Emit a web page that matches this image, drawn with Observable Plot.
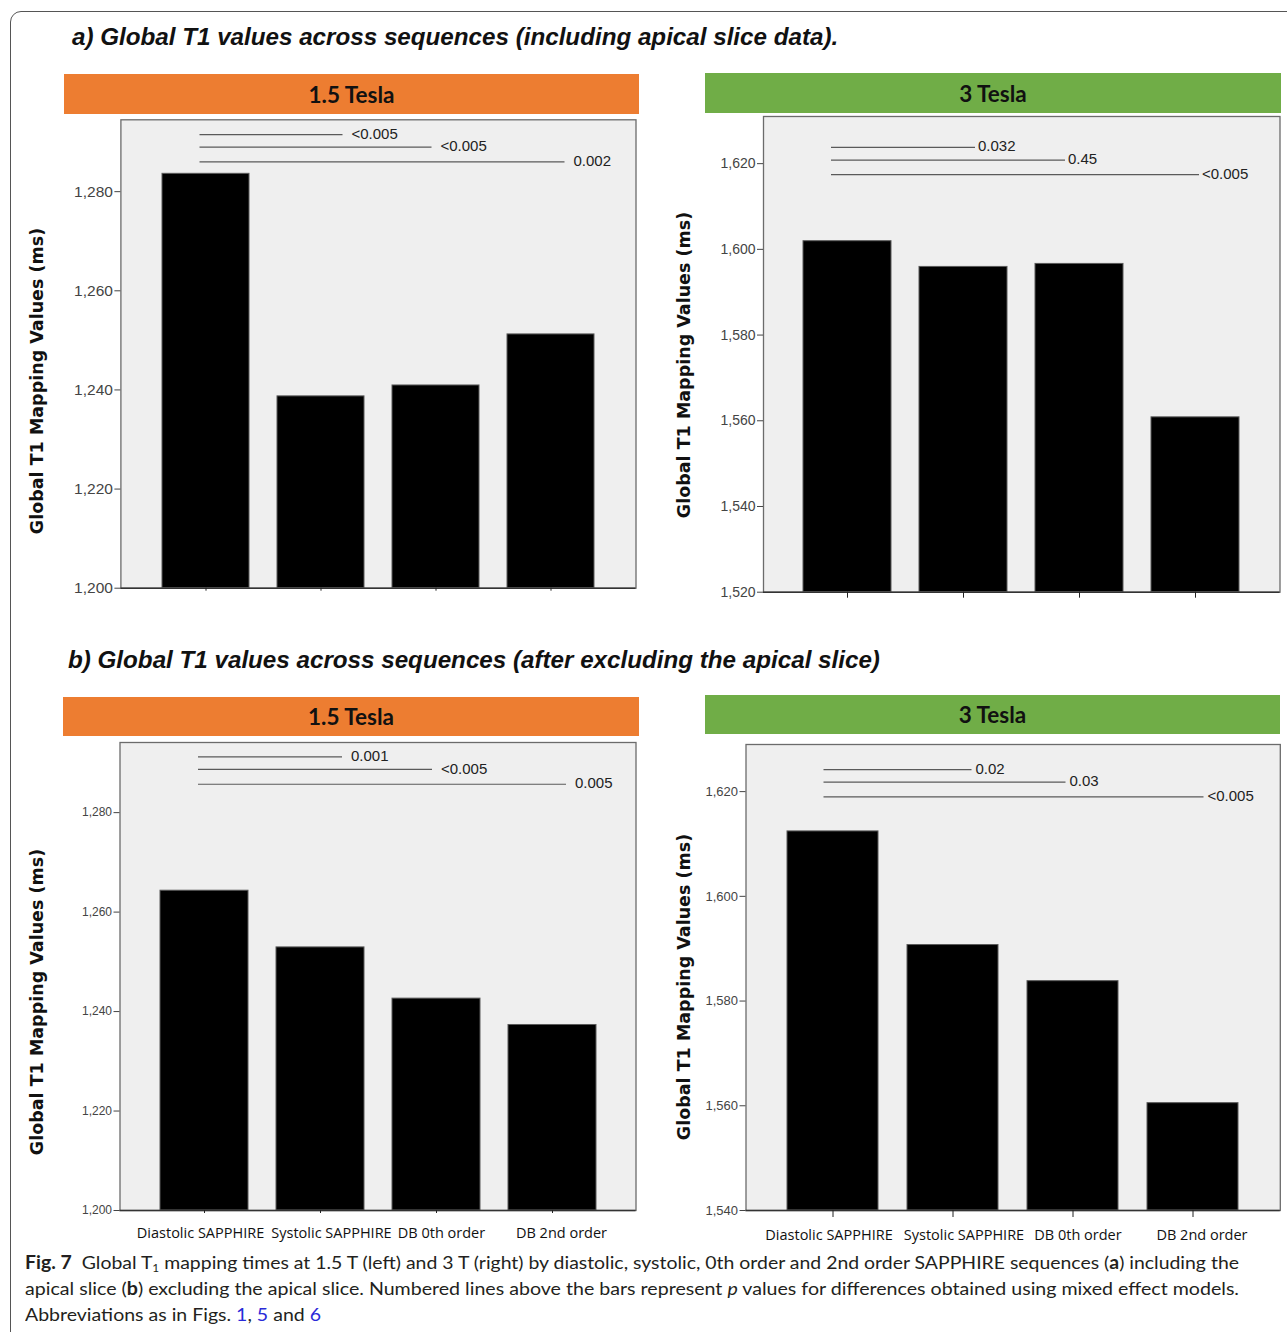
<!DOCTYPE html>
<html><head><meta charset="utf-8">
<script src="https://cdn.jsdelivr.net/npm/d3@7"></script>
<script src="https://cdn.jsdelivr.net/npm/@observablehq/plot@0.6"></script>
<style>
html,body{margin:0;padding:0;background:#fff;}
#fig{position:relative;width:1287px;height:1332px;overflow:hidden;background:#fff;}
#border{position:absolute;left:10px;top:11px;width:1330px;height:1400px;border:1.4px solid #555;border-radius:11px;box-sizing:border-box;}
.sec{position:absolute;font-family:"Liberation Sans",Arial,sans-serif;font-weight:bold;font-style:italic;font-size:24.2px;line-height:24px;color:#111;white-space:nowrap;}
.strip{position:absolute;display:flex;align-items:center;justify-content:center;font-family:Lato,sans-serif;font-weight:700;font-size:22.5px;color:#111;}
.ytitle{position:absolute;transform:translate(-50%,-50%) rotate(-90deg);font-family:"DejaVu Sans",sans-serif;font-weight:bold;font-size:17.5px;white-space:nowrap;color:#111;}
.panel{position:absolute;}
#caption{position:absolute;left:25px;top:1249px;font-family:Lato,sans-serif;font-size:18px;line-height:26px;color:#231f20;}
.cl{display:block;white-space:nowrap;height:26px;}
.cl .in{display:inline-block;transform-origin:0 50%;}
.lnk{color:#2a2ad8;}
sub{font-size:11px;vertical-align:-3px;line-height:0;}
</style></head>
<body>
<div id="fig">
  <div id="border"></div>
</div>
<script>
// ---------------- data ----------------
const categories = ["Diastolic SAPPHIRE", "Systolic SAPPHIRE", "DB 0th order", "DB 2nd order"];
// each p-value line compares Diastolic SAPPHIRE with:
const comparedWith = ["Systolic SAPPHIRE", "DB 0th order", "DB 2nd order"];

// a) including apical slice
const t1_15T_incl = [1283.6, 1238.7, 1240.9, 1251.2];
const t1_3T_incl = [1601.9, 1595.9, 1596.6, 1560.8];
// b) excluding apical slice
const t1_15T_excl = [1264.3, 1252.9, 1242.6, 1237.3];
const t1_3T_excl = [1612.4, 1590.7, 1583.8, 1560.5];

const yDomain_15T_incl = [1200, 1294.5];
const yDomain_3T_incl = [1520, 1631];
const yDomain_15T_excl = [1200, 1294.1];
const yDomain_3T_excl = [1540, 1629];

const yTicks_15T = [1200, 1220, 1240, 1260, 1280];
const yTicks_3T_incl = [1520, 1540, 1560, 1580, 1600, 1620];
const yTicks_3T_excl = [1540, 1560, 1580, 1600, 1620];

const pValues_15T_incl = ["<0.005", "<0.005", "0.002"];
const pValues_3T_incl = ["0.032", "0.45", "<0.005"];
const pValues_15T_excl = ["0.001", "<0.005", "0.005"];
const pValues_3T_excl = ["0.02", "0.03", "<0.005"];

// height (ms) at which each p-value line is drawn
const pLineY_15T_incl = [1291.4, 1288.9, 1285.9];
const pLineY_3T_incl = [1623.7, 1620.7, 1617.3];
const pLineY_15T_excl = [1291.1, 1288.6, 1285.6];
const pLineY_3T_excl = [1624.1, 1621.7, 1618.9];

const sectionTitles = [
  "a) Global T1 values across sequences (including apical slice data).",
  "b) Global T1 values across sequences (after excluding the apical slice)"
];
const fieldLabels = ["1.5 Tesla", "3 Tesla"];
const yAxisTitle = "Global T1 Mapping Values (ms)";

// ---------------- layout ----------------
const fig = document.getElementById("fig");
function addDiv(cls, style, html) {
  const d = document.createElement("div");
  d.className = cls;
  Object.assign(d.style, style);
  d.innerHTML = html;
  fig.appendChild(d);
  return d;
}

addDiv("sec", {left: "72px", top: "25px"}, sectionTitles[0]);
addDiv("sec", {left: "68px", top: "648px"}, sectionTitles[1]);

const stripColors = {"1.5 Tesla": "#ED7D31", "3 Tesla": "#70AD47"};
const strips = [
  {label: fieldLabels[0], left: 64, top: 74, w: 575, h: 40},
  {label: fieldLabels[1], left: 705, top: 73, w: 576, h: 40},
  {label: fieldLabels[0], left: 63, top: 697, w: 576, h: 39},
  {label: fieldLabels[1], left: 705, top: 695, w: 575, h: 39}
];
strips.forEach(s => addDiv("strip", {left: s.left + "px", top: s.top + "px", width: s.w + "px", height: s.h + "px", background: stripColors[s.label]}, s.label));

[[37, 381], [684, 365], [37, 1002], [684, 987]].forEach(([x, y]) =>
  addDiv("ytitle", {left: x + "px", top: y + "px"}, yAxisTitle));

// p-value bracket lines: from the first bar to the compared bar, label at the end
function sigMark(labels, ys, fontSize, shift, gap) {
  return (index, scales) => {
    const sx = scales.x, sy = scales.y;
    const bw = typeof sx.bandwidth === "function" ? sx.bandwidth() : 0;
    const cx = c => sx(c) + bw / 2;
    const endAdjust = [22, -4, 14];
    const g = d3.create("svg:g");
    labels.forEach((p, i) => {
      const x1 = cx(categories[0]) - 6 + shift;
      const x2 = cx(comparedWith[i]) + endAdjust[i] + shift;
      const y = sy(ys[i]);
      g.append("line").attr("x1", x1).attr("x2", x2).attr("y1", y).attr("y2", y)
        .attr("stroke", "#5a5a5a").attr("stroke-width", 1.2);
      g.append("text").attr("x", x2 + gap).attr("y", y).attr("dy", "0.28em")
        .attr("text-anchor", "start")
        .attr("font-size", fontSize).attr("fill", "#222")
        .attr("font-family", "'Liberation Sans', Arial, sans-serif").text(p);
    });
    return g.node();
  };
}

const xLabelShift = [-4, 11, 5, 9];

const panels = [
  {left: 60, top: 110, width: 600, height: 500, mL: 60.4, mR: 24.5, mT: 9.3, mB: 22.3,
   values: t1_15T_incl, domain: yDomain_15T_incl, ticks: yTicks_15T, pv: pValues_15T_incl, py: pLineY_15T_incl,
   tickFont: 15.5, xTick: 3, xLabels: false, sigShift: 0, sigGap: 9},
  {left: 700, top: 106, width: 587, height: 500, mL: 63, mR: 7.5, mT: 10, mB: 14.3,
   values: t1_3T_incl, domain: yDomain_3T_incl, ticks: yTicks_3T_incl, pv: pValues_3T_incl, py: pLineY_3T_incl,
   tickFont: 14, xTick: 6, xLabels: false, sigShift: -10, sigGap: 3},
  {left: 60, top: 736, width: 600, height: 520, mL: 59.5, mR: 24.5, mT: 6, mB: 46,
   values: t1_15T_excl, domain: yDomain_15T_excl, ticks: yTicks_15T, pv: pValues_15T_excl, py: pLineY_15T_excl,
   tickFont: 12, xTick: 3, xLabels: true, labelDy: 23, sigShift: 0, sigGap: 9},
  {left: 700, top: 738, width: 587, height: 518, mL: 45.5, mR: 7.2, mT: 6, mB: 46,
   values: t1_3T_excl, domain: yDomain_3T_excl, ticks: yTicks_3T_excl, pv: pValues_3T_excl, py: pLineY_3T_excl,
   tickFont: 13, xTick: 7, xLabels: true, labelDy: 25, sigShift: -3, sigGap: 4}
];

panels.forEach(cfg => {
  const data = categories.map((c, i) => ({category: c, value: cfg.values[i]}));
  const base = cfg.domain[0];
  const labelMarks = cfg.xLabels ? categories.map((c, i) =>
    Plot.text([c], {x: d => d, y: () => base, text: d => d, dy: cfg.labelDy, dx: xLabelShift[i],
      fontSize: 14.5, fontFamily: "'Open Sans', sans-serif", fill: "#111", textAnchor: "middle"})) : [];
  const chart = Plot.plot({
    width: cfg.width, height: cfg.height,
    marginLeft: cfg.mL, marginRight: cfg.mR, marginTop: cfg.mT, marginBottom: cfg.mB,
    style: {background: "transparent", fontFamily: "'Liberation Sans', Arial, sans-serif", overflow: "visible"},
    x: {type: "band", domain: categories, paddingInner: 0.245, paddingOuter: 0.345, label: null},
    y: {domain: cfg.domain, label: null},
    marks: [
      Plot.frame({fill: "#efefef", stroke: null}),
      Plot.barY(data, {x: "category", y1: () => base, y2: "value", fill: "#000", stroke: "#5a5a5a", strokeWidth: 1}),
      sigMark(cfg.pv, cfg.py, 15, cfg.sigShift, cfg.sigGap),
      Plot.frame({stroke: "#6b6b6b", strokeWidth: 1.3}),
      Plot.ruleY([base], {stroke: "#333", strokeWidth: 1.5}),
      Plot.axisY(cfg.ticks, {tickSize: 6, tickPadding: 2, tickFormat: d3.format(","), fontSize: cfg.tickFont, color: "#444", label: null}),
      Plot.axisX(categories, {tickSize: cfg.xTick, tickFormat: () => "", color: "#222", label: null}),
      ...labelMarks
    ]
  });
  const holder = document.createElement("div");
  holder.className = "panel";
  holder.style.left = cfg.left + "px";
  holder.style.top = cfg.top + "px";
  holder.appendChild(chart);
  fig.appendChild(holder);
});

// ---------------- caption ----------------
const cap = document.createElement("div");
cap.id = "caption";
cap.innerHTML =
  '<span class="cl"><span class="in"><b>Fig. 7</b>&nbsp;&nbsp;Global T<sub>1</sub> mapping times at 1.5 T (left) and 3 T (right) by diastolic, systolic, 0th order and 2nd order SAPPHIRE sequences (<b>a</b>) including the</span></span>' +
  '<span class="cl"><span class="in">apical slice (<b>b</b>) excluding the apical slice. Numbered lines above the bars represent <i>p</i> values for differences obtained using mixed effect models.</span></span>' +
  '<span class="cl"><span class="in">Abbreviations as in Figs. <span class="lnk">1</span>, <span class="lnk">5</span> and <span class="lnk">6</span></span></span>';
fig.appendChild(cap);
const ins = cap.querySelectorAll(".in");
const targets = [1214, 1214];
let sum = 0;
targets.forEach((t, i) => {
  const w = ins[i].getBoundingClientRect().width;
  const s = t / w; sum += s;
  ins[i].style.transform = `scaleX(${s})`;
});
ins[2].style.transform = `scaleX(${sum / targets.length})`;
</script>
</body></html>
